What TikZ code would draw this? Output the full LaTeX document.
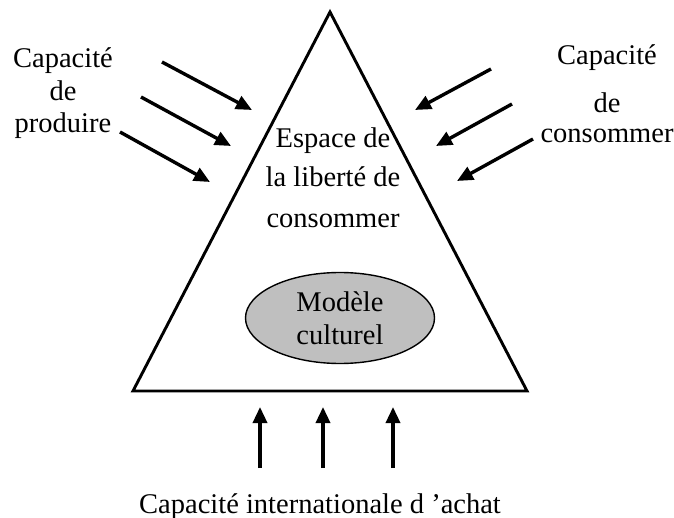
\documentclass[tikz,border=0pt]{standalone}
\usepackage{fontspec}
\setmainfont{Liberation Serif}
\usetikzlibrary{arrows.meta,shapes.geometric}
\tikzset{
  push/.style={line width=3.4pt, -{Triangle[length=16pt,width=14pt]}},
  lbl/.style={anchor=base, inner sep=0pt, font=\fontsize{28.5}{32}\selectfont}
}

\begin{document}
\begin{tikzpicture}[x=1pt,y=-1pt]
			%%%%% START %%%%%
			\useasboundingbox (0,0) rectangle (674,518);
			
			% the triangle
			\coordinate (apex) at (330,12);
			\coordinate (baseL) at (133,391);
			\coordinate (baseR) at (527,391);
			\draw[line width=2.9pt] (apex) -- (baseR) -- (baseL) -- cycle;
			
			\node[lbl] (espace) at (333,148) {Espace de};
			\node[lbl] (liberte) at (333,187) {la liberté de};
			\node[lbl] (consoMid) at (333,228) {consommer};
			
			\node[ellipse, draw, line width=1.4pt, fill=black!25, minimum width=189pt, minimum height=91pt] (modele) at (340,318) {};
			\node[lbl] (modeleA) at (340,312) {Modèle};
			\node[lbl] (modeleB) at (340,344) {culturel};
			
			% left side
			\node[lbl] (prodA) at (63,68) {Capacité};
			\node[lbl] (prodB) at (63,101) {de};
			\node[lbl] (prodC) at (63,133) {produire};
			
			\coordinate (p1s) at (162,62);  \coordinate (p1e) at (252,110);
			\coordinate (p2s) at (141,97);  \coordinate (p2e) at (231,146);
			\coordinate (p3s) at (120,132); \coordinate (p3e) at (210,182);
			\draw[push] (p1s) -- (p1e);
			\draw[push] (p2s) -- (p2e);
			\draw[push] (p3s) -- (p3e);
			
			% right side
			\node[lbl] (consA) at (607,65) {Capacité};
			\node[lbl] (consB) at (607,113) {de};
			\node[lbl] (consC) at (607,143) {consommer};
			
			\coordinate (c1s) at (491,69);  \coordinate (c1e) at (415,110);
			\coordinate (c2s) at (512,104); \coordinate (c2e) at (436,146);
			\coordinate (c3s) at (533,139); \coordinate (c3e) at (457,181);
			\draw[push] (c1s) -- (c1e);
			\draw[push] (c2s) -- (c2e);
			\draw[push] (c3s) -- (c3e);
			
			% bottom
			\coordinate (a1s) at (260,468); \coordinate (a1e) at (260,407);
			\coordinate (a2s) at (323,468); \coordinate (a2e) at (323,407);
			\coordinate (a3s) at (393,468); \coordinate (a3e) at (393,407);
			\draw[push] (a1s) -- (a1e);
			\draw[push] (a2s) -- (a2e);
			\draw[push] (a3s) -- (a3e);
			
			\node[lbl] (achat) at (320,513) {Capacité internationale d ’achat};
			
			%%%%% END %%%%%
\end{tikzpicture}
\end{document}
